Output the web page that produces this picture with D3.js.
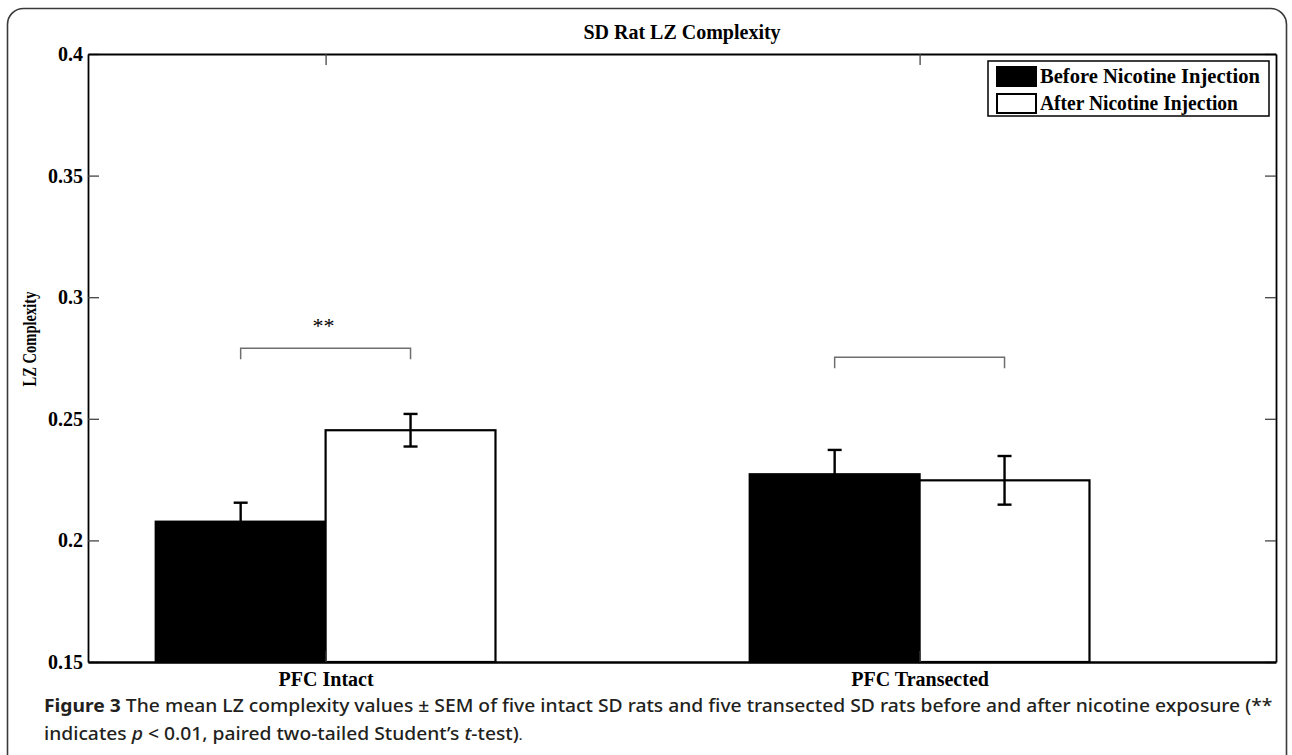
<!DOCTYPE html>
<html>
<head>
<meta charset="utf-8">
<script src="https://cdn.jsdelivr.net/npm/d3@7"></script>
<style>
  html, body { margin: 0; padding: 0; background: #fff; }
  svg { display: block; }
</style>
</head>
<body>
<svg id="chart" width="1292" height="755"></svg>
<script>
// ---- data ----
const categories = ["PFC Intact", "PFC Transected"];
const seriesNames = ["Before Nicotine Injection", "After Nicotine Injection"];
const beforeValues = [0.2077, 0.2272];
const afterValues  = [0.2453, 0.2247];
const beforeSEM    = [0.0078, 0.0100];
const afterSEM     = [0.0067, 0.0100];
const yTickValues  = [0.15, 0.2, 0.25, 0.3, 0.35, 0.4];
const yTickLabels  = ["0.15", "0.2", "0.25", "0.3", "0.35", "0.4"];
const bracketLevels = [0.2790, 0.2753];
const significance  = ["**", ""];
const chartTitle = "SD Rat LZ Complexity";
const yLabel = "LZ Complexity";

// ---- layout ----
const svg = d3.select("#chart");
const plot = { left: 88, right: 1276, top: 54, bottom: 662 };
const serif = "'Liberation Serif', 'Times New Roman', serif";
const sans = "'Noto Sans', 'Open Sans', Arial, sans-serif";

const x = d3.scaleLinear().domain([0.6, 2.6]).range([plot.left, plot.right]);
const y = d3.scaleLinear().domain([0.15, 0.4]).range([plot.bottom, plot.top]);
const barW = 0.286;
const capHalf = 7;

// outer frame (rounded, continues below the view)
svg.append("rect")
  .attr("x", 7.5).attr("y", 8.5).attr("width", 1279).attr("height", 800)
  .attr("rx", 16).attr("ry", 16)
  .attr("fill", "none").attr("stroke", "#3a3a3a").attr("stroke-width", 1.6);

const groups = categories.map((c, i) => ({
  cat: c, pos: i + 1,
  bars: [
    { key: 0, v: beforeValues[i], e: beforeSEM[i], x0: i + 1 - barW, fill: "#000" },
    { key: 1, v: afterValues[i],  e: afterSEM[i],  x0: i + 1,        fill: "#fff" }
  ]
}));

const g = svg.append("g");

// bars
groups.forEach(gr => {
  gr.bars.forEach(b => {
    g.append("rect")
      .attr("x", x(b.x0)).attr("width", x(b.x0 + barW) - x(b.x0))
      .attr("y", y(b.v)).attr("height", y(0.15) - y(b.v))
      .attr("fill", b.fill).attr("stroke", "#000").attr("stroke-width", 2.2);
  });
});

// error bars
groups.forEach(gr => {
  gr.bars.forEach(b => {
    const cx = x(b.x0 + barW / 2);
    const eg = g.append("g").attr("stroke", "#000").attr("stroke-width", 2.4);
    eg.append("line").attr("x1", cx).attr("x2", cx).attr("y1", y(b.v - b.e)).attr("y2", y(b.v + b.e));
    eg.append("line").attr("x1", cx - capHalf).attr("x2", cx + capHalf).attr("y1", y(b.v + b.e)).attr("y2", y(b.v + b.e));
    eg.append("line").attr("x1", cx - capHalf).attr("x2", cx + capHalf).attr("y1", y(b.v - b.e)).attr("y2", y(b.v - b.e));
  });
});

// significance brackets
groups.forEach((gr, i) => {
  const xa = x(gr.pos - barW / 2), xb = x(gr.pos + barW / 2);
  const yb = y(bracketLevels[i]);
  g.append("path")
    .attr("d", `M${xa},${yb + 11}V${yb}H${xb}V${yb + 11}`)
    .attr("fill", "none").attr("stroke", "#6e6e6e").attr("stroke-width", 1.5);
  if (significance[i]) {
    g.append("text")
      .attr("x", (xa + xb) / 2 - 2).attr("y", yb - 15)
      .attr("text-anchor", "middle")
      .attr("font-family", serif).attr("font-size", 22)
      .attr("fill", "#000")
      .text(significance[i]);
  }
});

// axes
const axisStyle = sel => {
  sel.selectAll(".domain").attr("stroke", "#000").attr("stroke-width", 1.8);
  sel.selectAll(".tick line").attr("stroke", "#444").attr("stroke-width", 1.3);
  sel.selectAll("text").attr("font-family", serif).attr("font-size", 20)
     .attr("font-weight", "bold").attr("fill", "#000");
};

svg.append("g").attr("transform", `translate(${plot.left},0)`)
  .call(d3.axisLeft(y).tickValues(yTickValues).tickFormat((d, i) => yTickLabels[i])
        .tickSizeInner(-11).tickSizeOuter(0).tickPadding(5))
  .call(axisStyle);

svg.append("g").attr("transform", `translate(${plot.right},0)`)
  .call(d3.axisRight(y).tickValues(yTickValues).tickFormat("")
        .tickSizeInner(-11).tickSizeOuter(0))
  .call(axisStyle);

svg.append("g").attr("transform", `translate(0,${plot.top})`)
  .call(d3.axisTop(x).tickValues(groups.map(d => d.pos)).tickFormat("")
        .tickSizeInner(-11).tickSizeOuter(0))
  .call(axisStyle);

svg.append("g").attr("transform", `translate(0,${plot.bottom})`)
  .call(d3.axisBottom(x).tickValues(groups.map(d => d.pos)).tickFormat((d, i) => categories[i])
        .tickSizeInner(-11).tickSizeOuter(0).tickPadding(10))
  .call(axisStyle)
  .call(s => s.select(".domain").attr("stroke-width", 2.4));

// title
svg.append("text")
  .attr("x", (plot.left + plot.right) / 2).attr("y", 39)
  .attr("text-anchor", "middle")
  .attr("font-family", serif).attr("font-size", 20).attr("font-weight", "bold")
  .text(chartTitle);

// y label (condensed to match)
const yl = svg.append("text")
  .attr("x", 0).attr("y", 0)
  .attr("text-anchor", "middle")
  .attr("font-family", serif).attr("font-size", 18).attr("font-weight", "bold")
  .text(yLabel);
{
  const w = yl.node().getComputedTextLength();
  const s = 95 / w;
  yl.attr("transform", `translate(36,339) rotate(-90) scale(${s},1)`);
}

// legend
const lg = svg.append("g");
lg.append("rect").attr("x", 988).attr("y", 61).attr("width", 281).attr("height", 55)
  .attr("fill", "#fff").attr("stroke", "#000").attr("stroke-width", 1.5);
const legendFills = ["#000", "#fff"];
seriesNames.forEach((s, i) => {
  lg.append("rect").attr("x", 997).attr("y", 67 + i * 27).attr("width", 39).attr("height", 19)
    .attr("fill", legendFills[i]).attr("stroke", "#000").attr("stroke-width", 2);
  const t = lg.append("text").attr("x", 1040).attr("y", 83 + i * 27)
    .attr("font-family", serif).attr("font-size", 21).attr("font-weight", "bold")
    .text(s);
  const w = t.node().getComputedTextLength();
  const target = i === 0 ? 220 : 198;
  t.attr("transform", `translate(1040,0) scale(${target / w},1) translate(-1040,0)`);
});

// caption
const capColor = "#231f20";
function fitLine(textSel, x0, targetW) {
  const w = textSel.node().getComputedTextLength();
  const s = targetW / w;
  textSel.attr("transform", `translate(${x0},0) scale(${s},1) translate(${-x0},0)`);
}
const c1 = svg.append("text").attr("x", 44).attr("y", 712)
  .attr("font-family", sans).attr("font-size", 18.5).attr("fill", capColor);
c1.append("tspan").attr("font-weight", "bold").text("Figure 3");
c1.append("tspan").attr("font-weight", 500).text(" The mean LZ complexity values \u00b1 SEM of five intact SD rats and five transected SD rats before and after nicotine exposure (**");
fitLine(c1, 44, 1229);

const c2 = svg.append("text").attr("x", 44).attr("y", 740)
  .attr("font-family", sans).attr("font-size", 18.5).attr("font-weight", 500).attr("fill", capColor);
c2.append("tspan").text("indicates ");
c2.append("tspan").attr("font-style", "italic").text("p");
c2.append("tspan").text(" < 0.01, paired two-tailed Student\u2019s ");
c2.append("tspan").attr("font-style", "italic").text("t");
c2.append("tspan").text("-test)");
c2.append("tspan").attr("font-size", 13).text(".");
fitLine(c2, 44, 479);
</script>
</body>
</html>
